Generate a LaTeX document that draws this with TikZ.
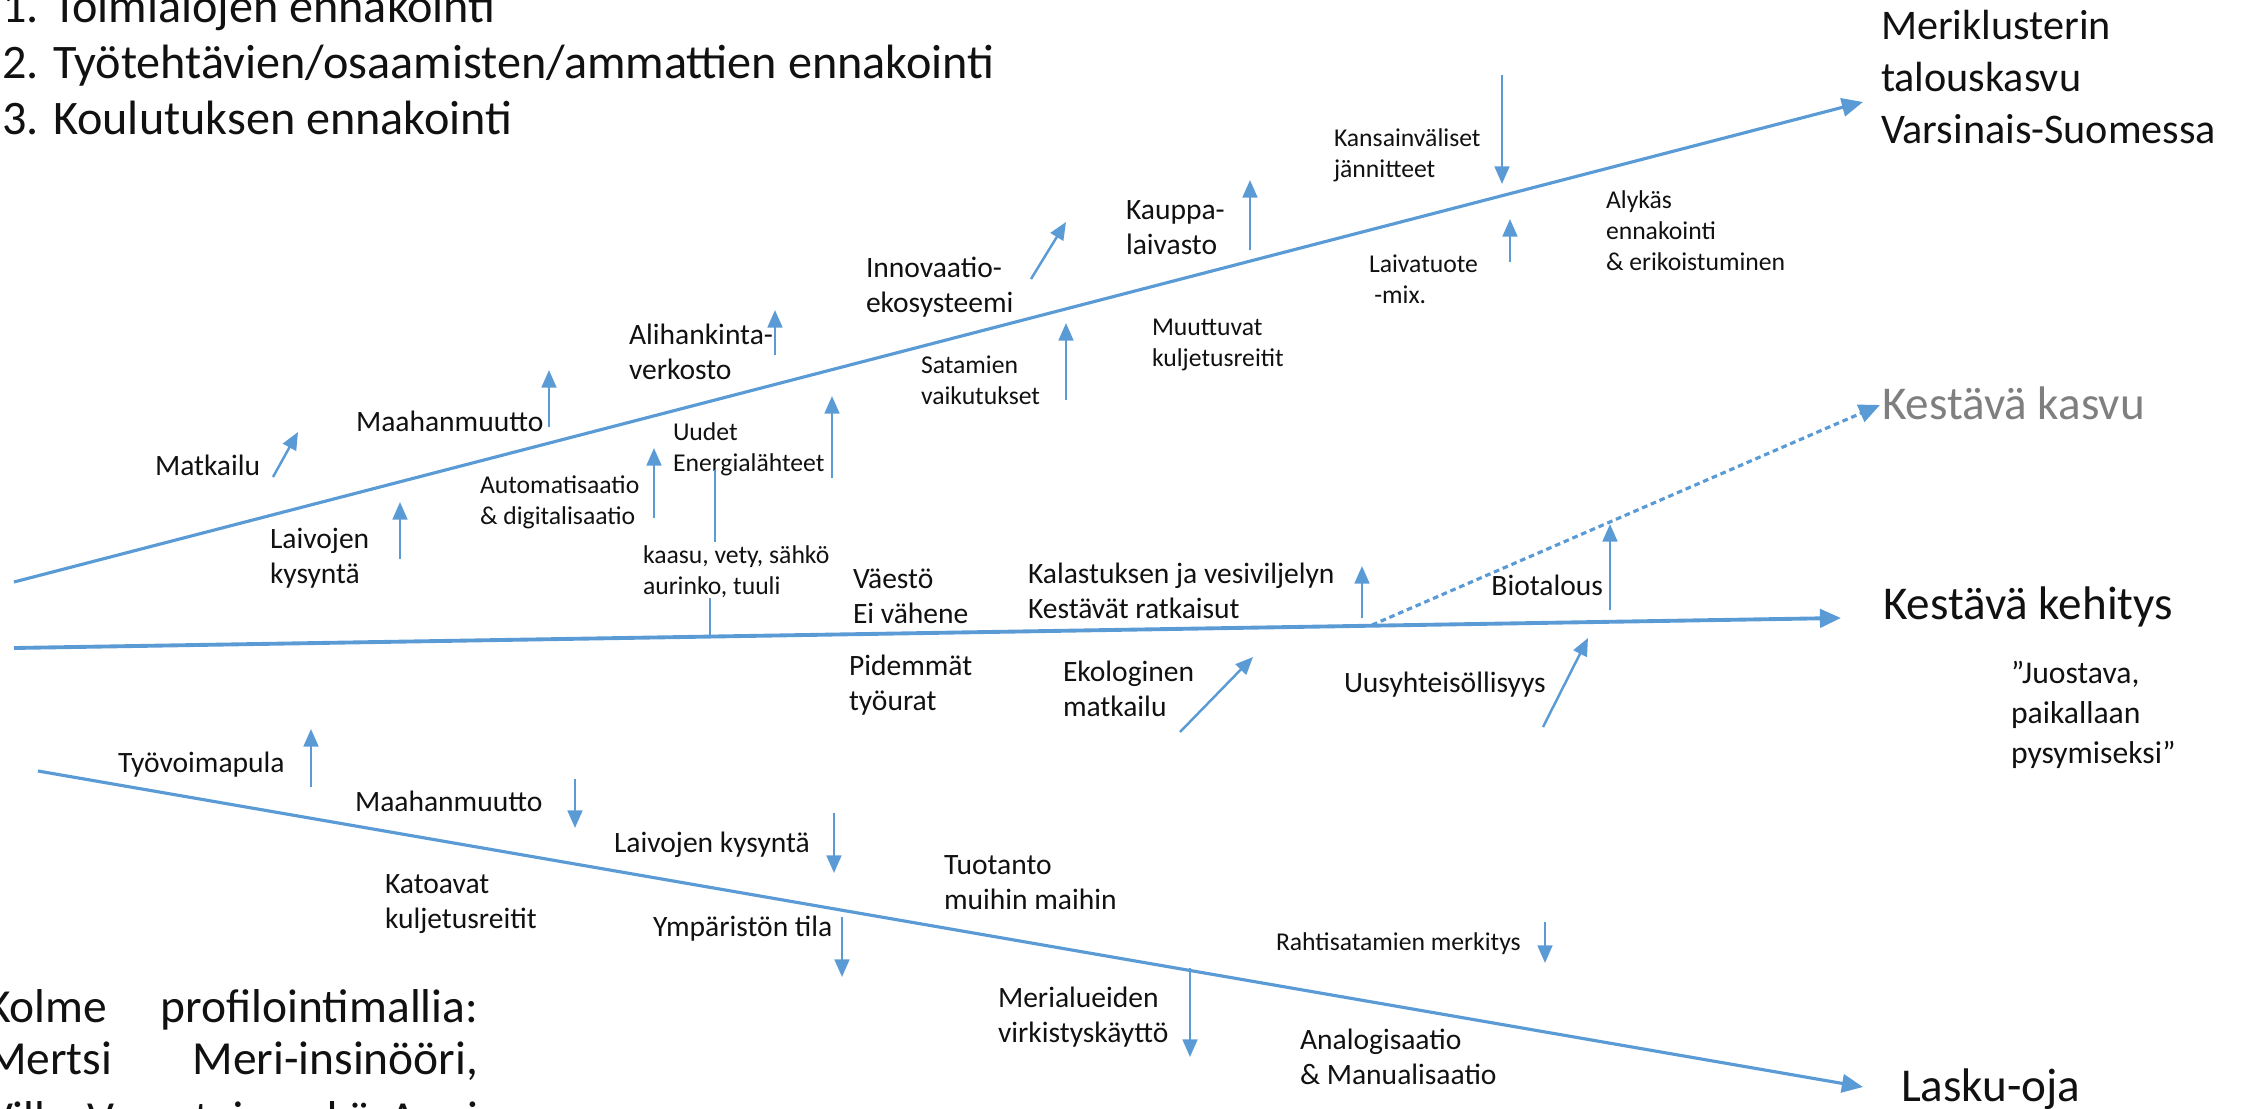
\documentclass[tikz,border=0pt]{standalone}
\usepackage{fontspec}
\setmainfont{Carlito}
\usetikzlibrary{arrows.meta}
\definecolor{lineblue}{HTML}{5B9BD5}
\definecolor{txt}{HTML}{111111}
\definecolor{greytxt}{HTML}{7F7F7F}
\begin{document}
\begin{tikzpicture}[x=0.01cm, y=-0.01cm,
  every node/.style={inner sep=0pt, outer sep=0pt, text=txt},
  big/.style={font=\fontsize{13.4}{16.2}\selectfont, anchor=west, align=left},
  mid/.style={font=\fontsize{12}{14.8}\selectfont, anchor=west, align=left},
  quote/.style={font=\fontsize{9}{11.4}\selectfont, anchor=west, align=left},
  lab/.style={font=\fontsize{8.4}{10}\selectfont, anchor=west, align=left},
  slab/.style={font=\fontsize{7.3}{8.8}\selectfont, anchor=west, align=left},
  mainline/.style={draw=lineblue, line width=0.9pt, -{Triangle[length=6pt,width=5.2pt]}},
  dashline/.style={mainline, dash pattern=on 1.6pt off 1.1pt},
  upar/.style={draw=lineblue, line width=0.7pt, -{Triangle[length=5pt,width=4.2pt]}},
  plainline/.style={draw=lineblue, line width=0.7pt},
]
\useasboundingbox (0,0) rectangle (2244,1109);

% ---------- main lines ----------
\coordinate (U0) at (14,582);   \coordinate (U1) at (1863,102);
\coordinate (M0) at (14,648);   \coordinate (M1) at (1841,618);
\coordinate (L0) at (38,771);   \coordinate (L1) at (1863,1087);
\coordinate (D0) at (1372,625); \coordinate (D1) at (1880,405);
\draw[mainline] (U0) -- (U1);
\draw[mainline, line width=1.1pt] (M0) -- (M1);
\draw[mainline] (L0) -- (L1);
\draw[dashline] (D0) -- (D1);

% ---------- big texts ----------
\node[big, font=\fontsize{13.7}{15.8}\selectfont] (toplist) at (2,62) {1. Toimialojen ennakointi\\2. Työtehtävien/osaamisten/ammattien ennakointi\\3. Koulutuksen ennakointi};
\node[mid] (meri) at (1881,77) {Meriklusterin\\talouskasvu\\Varsinais-Suomessa};
\node[big, text=greytxt] (kasvu) at (1882,403) {Kestävä kasvu};
\node[big] (kehitys) at (1883,607) {Kestävä kehitys};
\node[quote] (juost) at (2011,715) {”Juostava,\\paikallaan\\pysymiseksi”};
\node[big] (lasku) at (1901,1089) {Lasku-oja};
\node[font=\fontsize{13.5}{15}\selectfont, anchor=west, align=left] (kolme) at (-14,1066)
  {\makebox[4.92cm][s]{Kolme profilointimallia:}\\\makebox[4.92cm][s]{Mertsi Meri-insinööri,}\\[2pt]\makebox[4.92cm][s]{Ville Varustaja sekä Anni}};

% ---------- upper line labels ----------
\node[lab] (matk) at (155,465) {Matkailu};
\node[lab] (maah1) at (356,421) {Maahanmuutto};
\node[lab] (alih) at (629,352) {Alihankinta-\\verkosto};
\node[lab] (innov) at (866,287) {Innovaatio-\\ekosysteemi};
\node[lab] (kaup) at (1126,228) {Kauppa-\\laivasto};
\node[slab] (kans) at (1334,155) {Kansainväliset\\jännitteet};
\node[slab] (alyk) at (1606,231) {Alykäs\\ennakointi\\\& erikoistuminen};
\node[slab] (laivat) at (1369,279) {Laivatuote\\\hspace*{1.5pt}-mix.};
\node[slab] (muut) at (1152,345) {Muuttuvat\\kuljetusreitit};
\node[slab] (satam) at (921,380) {Satamien\\vaikutukset};
\node[slab] (uudet) at (673,449) {Uudet\\Energialähteet};
\node[slab] (autom) at (480,502) {Automatisaatio\\\& digitalisaatio};
\node[slab] (kaasu) at (643,572) {kaasu, vety, sähkö\\aurinko, tuuli};
\node[lab] (laivk1) at (270,558) {Laivojen\\kysyntä};

% ---------- middle line labels ----------
\node[lab] (vaest) at (853,596) {Väestö\\Ei vähene};
\node[lab] (kalas) at (1028,591) {Kalastuksen ja vesiviljelyn\\Kestävät ratkaisut};
\node[lab, anchor=east] (bio) at (1603,585) {Biotalous};
\node[lab] (pid) at (849,685) {Pidemmät\\työurat};
\node[lab] (ekol) at (1063,689) {Ekologinen\\matkailu};
\node[lab] (uusy) at (1344,685) {Uusyhteisöllisyys};

% ---------- lower line labels ----------
\node[lab] (tyov) at (118,765) {Työvoimapula};
\node[lab] (maah2) at (355,801) {Maahanmuutto};
\node[lab] (laivk2) at (614,845) {Laivojen kysyntä};
\node[lab] (katoa) at (385,904) {Katoavat\\kuljetusreitit};
\node[lab] (tuot) at (944,883) {Tuotanto\\muihin maihin};
\node[lab] (ymp) at (653,929) {Ympäristön tila};
\node[slab] (raht) at (1276,944) {Rahtisatamien merkitys};
\node[lab] (meria) at (998,1017) {Merialueiden\\virkistyskäyttö};
\node[lab] (analog) at (1300,1057) {Analogisaatio\\\& Manualisaatio};

% ---------- small arrows ----------
\coordinate (a1s) at (273,477);  \coordinate (a1e) at (298,432);
\coordinate (a2s) at (549,427);  \coordinate (a2e) at (549,370);
\coordinate (a3s) at (775,355);  \coordinate (a3e) at (775,310);
\coordinate (a4s) at (1031,279); \coordinate (a4e) at (1066,222);
\coordinate (a5s) at (1250,250); \coordinate (a5e) at (1250,180);
\coordinate (a6s) at (1502,75);  \coordinate (a6e) at (1502,184);
\coordinate (a7s) at (1510,262); \coordinate (a7e) at (1510,219);
\coordinate (a8s) at (1066,400); \coordinate (a8e) at (1066,323);
\coordinate (a9s) at (832,478);  \coordinate (a9e) at (832,396);
\coordinate (a10s) at (654,518); \coordinate (a10e) at (654,448);
\coordinate (a11s) at (400,559); \coordinate (a11e) at (400,502);
\coordinate (a12s) at (1362,618); \coordinate (a12e) at (1362,566);
\coordinate (a13s) at (1610,610); \coordinate (a13e) at (1610,524);
\coordinate (a14s) at (1180,732); \coordinate (a14e) at (1253,657);
\coordinate (a15s) at (1543,727); \coordinate (a15e) at (1588,638);
\coordinate (a16s) at (311,787); \coordinate (a16e) at (311,729);
\coordinate (a17s) at (575,779); \coordinate (a17e) at (575,828);
\coordinate (a18s) at (834,813); \coordinate (a18e) at (834,873);
\coordinate (a19s) at (842,917); \coordinate (a19e) at (842,977);
\coordinate (a20s) at (1545,922); \coordinate (a20e) at (1545,963);
\coordinate (a21s) at (1190,968); \coordinate (a21e) at (1190,1057);
\foreach \i in {1,...,21} \draw[upar] (a\i s) -- (a\i e);

% ---------- plain connector lines ----------
\coordinate (p1s) at (715,470); \coordinate (p1e) at (715,542);
\coordinate (p2s) at (710,598); \coordinate (p2e) at (710,637);
\draw[plainline] (p1s) -- (p1e);
\draw[plainline] (p2s) -- (p2e);
\end{tikzpicture}
\end{document}
